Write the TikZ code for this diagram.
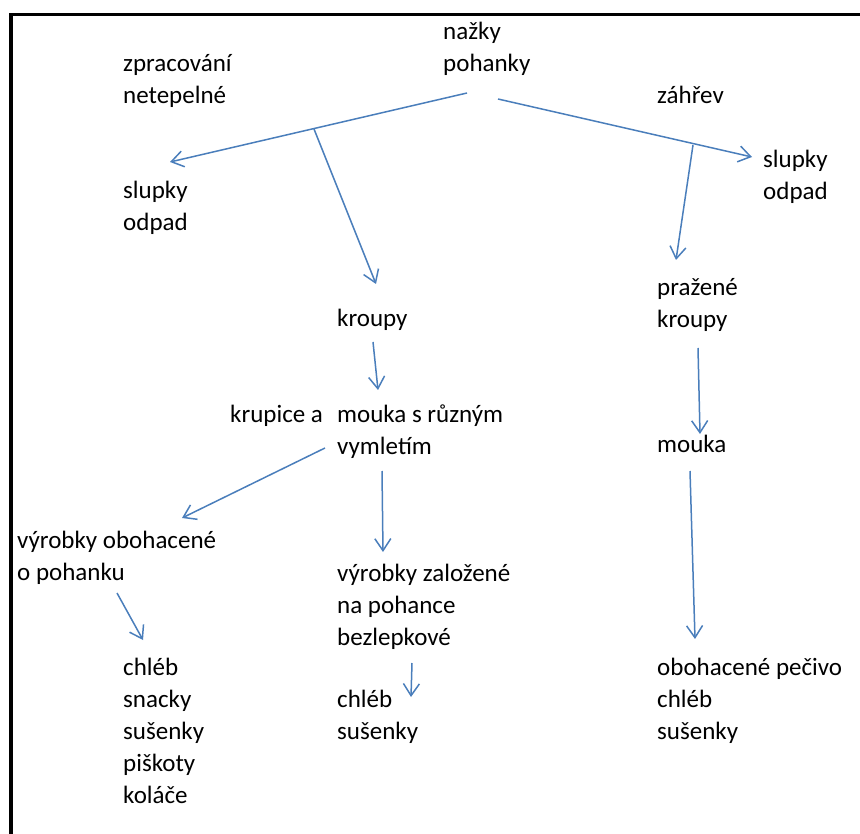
\documentclass[tikz,border=0pt]{standalone}
\usepackage{fontspec}
\setmainfont{Carlito}
\usetikzlibrary{arrows.meta}
\definecolor{arrowblue}{RGB}{74,126,187}
\begin{document}
\begin{tikzpicture}[x=1pt,y=-1pt,
  lbl/.style={anchor=base west,inner sep=0pt,align=left,font=\fontsize{25}{32}\selectfont},
  arr/.style={draw=arrowblue,line width=1.5pt,-{Straight Barb[length=12pt,width=16pt,line width=1.5pt]}}]
\useasboundingbox (0,0) rectangle (860,834);
\draw[line width=3.6pt] (10.8,834) -- (10.8,14.6) -- (860,14.6);

% base anchor of a multi-line node = baseline of its last line
\node[lbl] (nazky) at (443,72) {nažky\\pohanky};
\node[lbl] (zprac) at (123,104) {zpracování\\netepelné};
\node[lbl] (zahrev) at (657,104) {záhřev};
\node[lbl] (slupL) at (123,231) {slupky\\odpad};
\node[lbl] (slupR) at (763,200) {slupky\\odpad};
\node[lbl] (kroupy) at (337,327) {kroupy};
\node[lbl] (prazene) at (657,328) {pražené\\kroupy};
\node[lbl] (krupice) at (230,422) {krupice a};
\node[lbl] (mouka1) at (337,454) {mouka s různým\\vymletím};
\node[lbl] (mouka2) at (657,453) {mouka};
\node[lbl] (obohac) at (17,580) {výrobky obohacené\\o pohanku};
\node[lbl] (zalozene) at (337,645) {výrobky založené\\na pohance\\bezlepkové};
\node[lbl] (listL) at (123,803) {chléb\\snacky\\sušenky\\piškoty\\koláče};
\node[lbl] (listM) at (337,739) {chléb\\sušenky};
\node[lbl] (listR) at (657,739) {obohacené pečivo\\chléb\\sušenky};

\coordinate (s1) at (467,93);   \coordinate (e1) at (170,162);
\coordinate (b1) at (314,129);  \coordinate (e2) at (376,284);
\coordinate (s3) at (498,99);   \coordinate (e3) at (752,157);
\coordinate (b3) at (693,145);  \coordinate (e4) at (676,260);
\coordinate (s5) at (373,342);  \coordinate (e5) at (378,390);
\coordinate (s6) at (325,448);  \coordinate (e6) at (182,518);
\coordinate (s7) at (382,471);  \coordinate (e7) at (383,552);
\coordinate (s8) at (698,348);  \coordinate (e8) at (700,434);
\coordinate (s9) at (690,471);  \coordinate (e9) at (695,639);
\coordinate (s10) at (117,593); \coordinate (e10) at (143,640);
\coordinate (s11) at (412,663); \coordinate (e11) at (411,697);

\draw[arr] (s1) -- (e1);
\draw[arr] (b1) -- (e2);
\draw[arr] (s3) -- (e3);
\draw[arr] (b3) -- (e4);
\draw[arr] (s5) -- (e5);
\draw[arr] (s6) -- (e6);
\draw[arr] (s7) -- (e7);
\draw[arr] (s8) -- (e8);
\draw[arr] (s9) -- (e9);
\draw[arr] (s10) -- (e10);
\draw[arr] (s11) -- (e11);
\end{tikzpicture}
\end{document}
